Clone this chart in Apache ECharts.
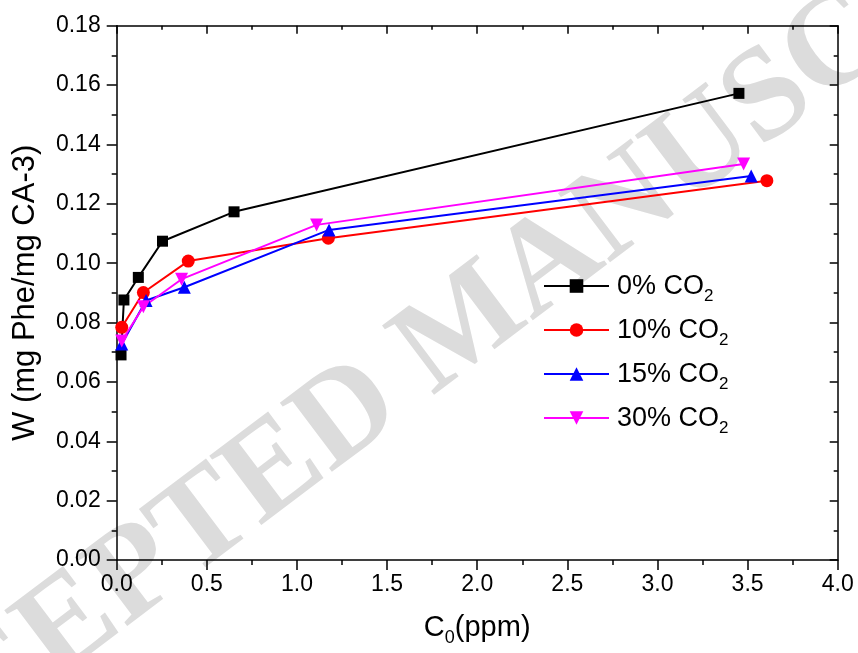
<!DOCTYPE html>
<html>
<head>
<meta charset="utf-8">
<script src="https://cdn.jsdelivr.net/npm/echarts@6/dist/echarts.min.js"></script>
<style>html,body{margin:0;padding:0;background:#fff}#c{width:858px;height:653px}</style>
</head>
<body>
<div id="c"></div>
<script>
// ---- data ----
const seriesNames = ['0% CO2', '10% CO2', '15% CO2', '30% CO2'];
const xBlack = [0.024, 0.040, 0.120, 0.254, 0.651, 3.452];
const yBlack = [0.0691, 0.0876, 0.0952, 0.1074, 0.1173, 0.1572];
const xRed = [0.028, 0.148, 0.397, 1.174, 3.607];
const yRed = [0.0784, 0.0901, 0.1007, 0.1084, 0.1278];
const xBlue = [0.028, 0.163, 0.375, 1.178, 3.520];
const yBlue = [0.0728, 0.0874, 0.0919, 0.1112, 0.1294];
const xMag = [0.028, 0.148, 0.360, 1.109, 3.478];
const yMag = [0.0738, 0.0853, 0.0946, 0.1129, 0.1334];
const xTicks = { min: 0, max: 4, interval: 0.5 };
const yTicks = { min: 0, max: 0.18, interval: 0.02 };
const yTitle = 'W (mg Phe/mg CA-3)';
const watermark = 'ACCEPTED MANUSCRIPT';

const pairs = (xs, ys) => xs.map((x, i) => [x, ys[i]]);
const FONT = 'Arial, "Liberation Sans", sans-serif';

function mkSeries(name, data, color, symbol, size, rot) {
  return {
    name, type: 'line', data, symbol, symbolSize: size, symbolRotate: rot || 0,
    lineStyle: { color, width: 2 }, itemStyle: { color },
    emphasis: { disabled: true }, animation: false, z: 3
  };
}

const chart = echarts.init(document.getElementById('c'), null, { renderer: 'canvas' });
const axisCommonX = {
  type: 'value', min: xTicks.min, max: xTicks.max, interval: xTicks.interval,
  splitLine: { show: false },
  axisLine: { show: true, onZero: false, lineStyle: { color: '#000', width: 1.5 } }
};
const axisCommonY = {
  type: 'value', min: yTicks.min, max: yTicks.max, interval: yTicks.interval,
  splitLine: { show: false },
  axisLine: { show: true, onZero: false, lineStyle: { color: '#000', width: 1.5 } }
};
chart.setOption({
  animation: false,
  backgroundColor: '#fff',
  graphic: [{
    type: 'text', x: 466, y: 328, rotation: 37 * Math.PI / 180, z: -1, silent: true,
    style: { text: watermark, font: 'bold 132px "Liberation Serif", serif', fill: '#dcdcdc', align: 'center', verticalAlign: 'middle' }
  }],
  grid: { left: 116.7, right: 20.3, top: 25.7, bottom: 93, containLabel: false },
  xAxis: [
    Object.assign({}, axisCommonX, {
      position: 'bottom',
      axisTick: { show: true, inside: false, length: 10, lineStyle: { color: '#000', width: 1.5 } },
      minorTick: { show: true, splitNumber: 2, length: 5, lineStyle: { color: '#000', width: 1.5 } },
      axisLabel: { show: true, color: '#000', fontSize: 23, fontFamily: FONT, margin: 13,
        formatter: v => v.toFixed(1) },
      name: '{t|C}{s|0}{t|(ppm)}', nameLocation: 'middle', nameGap: 53,
      nameTextStyle: { rich: {
        t: { fontSize: 29, fontFamily: FONT, color: '#000', lineHeight: 32, verticalAlign: 'top' },
        s: { fontSize: 18, fontFamily: FONT, color: '#000', lineHeight: 10, verticalAlign: 'top', padding: [16, 0, 0, 0] }
      } }
    }),
    Object.assign({}, axisCommonX, {
      position: 'top',
      axisTick: { show: true, inside: true, length: 8, lineStyle: { color: '#000', width: 1.5 } },
      minorTick: { show: true, splitNumber: 2, length: 4, lineStyle: { color: '#000', width: 1.5 } },
      axisLabel: { show: false }
    })
  ],
  yAxis: [
    Object.assign({}, axisCommonY, {
      position: 'left',
      axisTick: { show: true, inside: false, length: 10, lineStyle: { color: '#000', width: 1.5 } },
      minorTick: { show: true, splitNumber: 2, length: 5, lineStyle: { color: '#000', width: 1.5 } },
      axisLabel: { show: true, color: '#000', fontSize: 23, fontFamily: FONT, margin: 16,
        formatter: v => v.toFixed(2) },
      name: yTitle, nameLocation: 'middle', nameGap: 76, nameRotate: 90,
      nameTextStyle: { fontSize: 31, fontFamily: FONT, color: '#000' }
    }),
    Object.assign({}, axisCommonY, {
      position: 'right',
      axisTick: { show: true, inside: true, length: 8, lineStyle: { color: '#000', width: 1.5 } },
      minorTick: { show: true, splitNumber: 2, length: 4, lineStyle: { color: '#000', width: 1.5 } },
      axisLabel: { show: false }
    })
  ],
  legend: {
    orient: 'vertical', left: 543, top: 271, padding: 0, itemWidth: 65, itemHeight: 17, itemGap: 10,
    data: seriesNames,
    formatter: name => '{t|' + name.replace('CO2', 'CO') + '}{s|2}',
    textStyle: { rich: {
      t: { fontSize: 27, fontFamily: FONT, color: '#000', lineHeight: 30, verticalAlign: 'top', padding: [2, 0, 0, 3] },
      s: { fontSize: 17, fontFamily: FONT, color: '#000', lineHeight: 9, verticalAlign: 'top', padding: [17, 0, 0, 0] }
    } }
  },
  series: [
    mkSeries(seriesNames[0], pairs(xBlack, yBlack), '#000000', 'rect', 11),
    mkSeries(seriesNames[1], pairs(xRed, yRed), '#ff0000', 'circle', 13),
    mkSeries(seriesNames[2], pairs(xBlue, yBlue), '#0000ff', 'triangle', 13),
    mkSeries(seriesNames[3], pairs(xMag, yMag), '#ff00ff', 'triangle', 13, 180)
  ]
});
</script>
</body>
</html>
